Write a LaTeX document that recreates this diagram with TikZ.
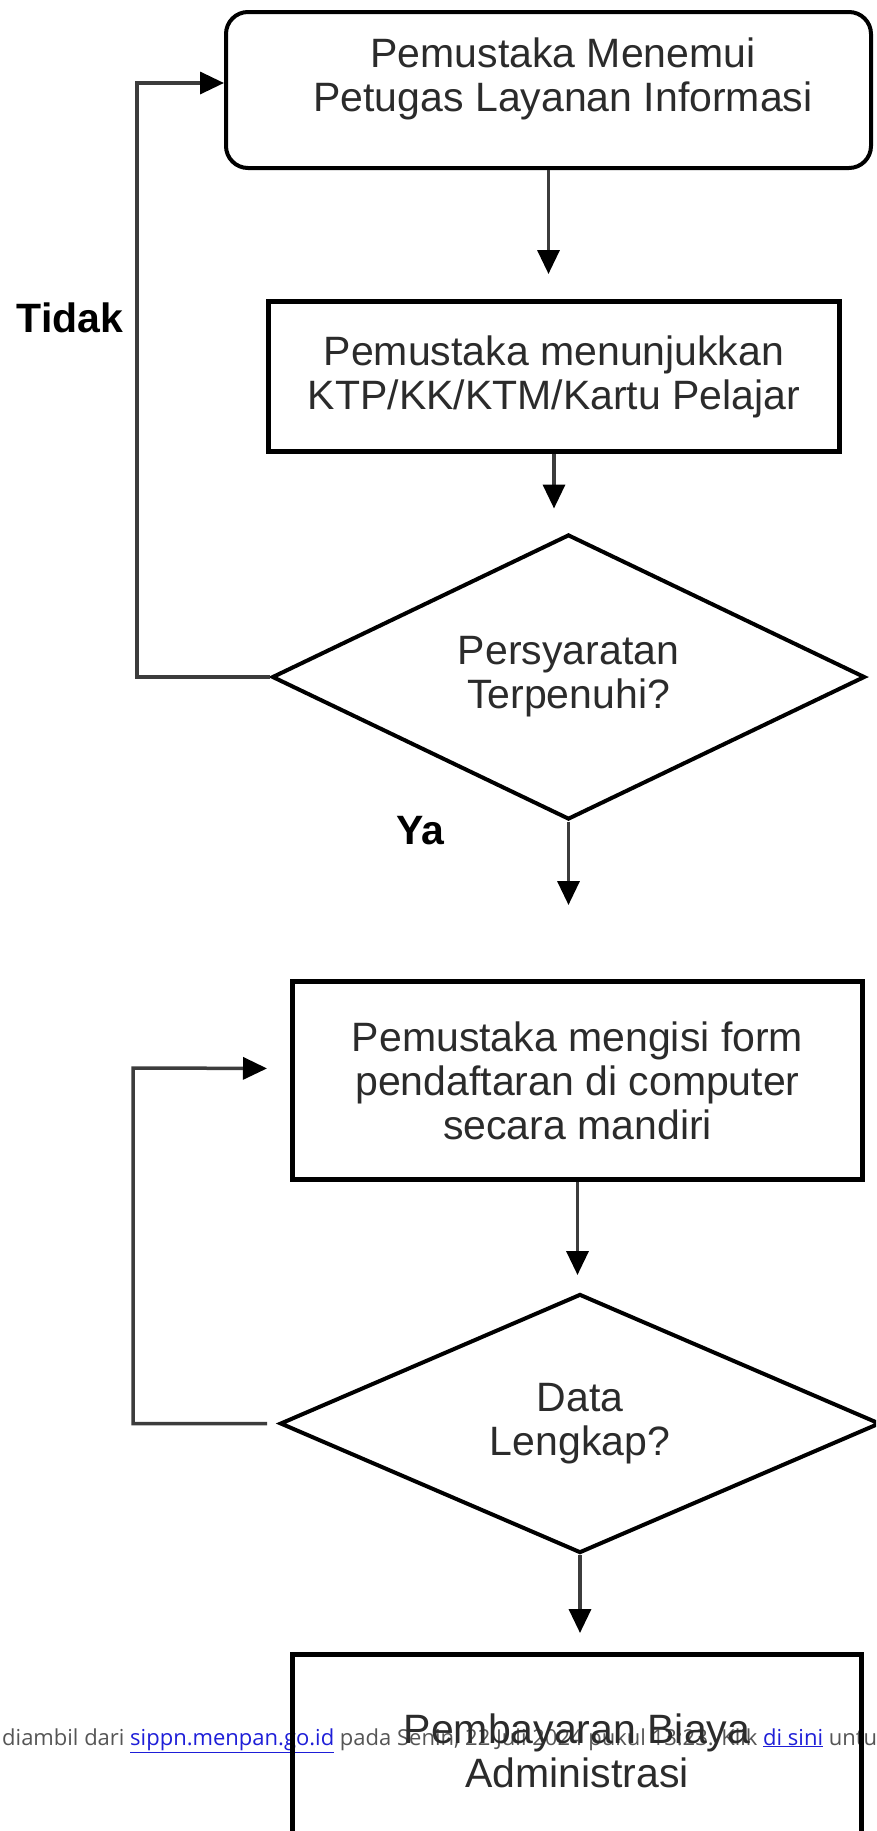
\documentclass[tikz,border=0pt]{standalone}
\usepackage{fontspec}
\setmainfont{Liberation Sans}
\newfontfamily\notefont{Open Sans}
\usetikzlibrary{shapes.geometric,arrows.meta}
\definecolor{inktext}{HTML}{2B2B2B}
\definecolor{linegray}{HTML}{3C3C3C}
\definecolor{notegray}{HTML}{555555}
\definecolor{linkblue}{HTML}{1E1ED8}

\begin{document}
\begin{tikzpicture}[x=1pt,y=-1pt,
    txt/.style={font=\fontsize{41}{44}\selectfont,text=inktext,align=center},
    procbox/.style={draw=black,line width=5pt,txt},
    decbox/.style={draw=black,line width=4pt,diamond,aspect=2.1,inner sep=0pt,txt},
    flow/.style={draw=linegray,line width=3.5pt,-{Triangle[length=24pt,width=22pt,color=black]}},
    lbl/.style={font=\fontsize{41}{44}\selectfont\bfseries,text=black}]
    \path[use as bounding box] (0,0) rectangle (876,1831);
    \clip (0,0) rectangle (876,1831);
    \fill[white] (0,0) rectangle (876,1831);

    \node[anchor=base west,inner sep=0pt,font=\notefont\fontsize{22}{26}\selectfont,text=notegray] (note) at (2,1745) {diambil dari \textcolor{linkblue}{\underline{sippn.menpan.go.id}} pada Senin, 22 Juli 2024 pukul 13:23. Klik \textcolor{linkblue}{\underline{di sini}} untuk};

    \node[draw=black,line width=4pt,rounded corners=22pt,minimum width=645pt,minimum height=156pt] (meet) at (548.5,90) {};
    \node[txt] (meettext) at (563,79) {Pemustaka Menemui\\Petugas Layanan Informasi};
    \node[procbox,minimum width=571pt,minimum height=150pt] (ktp) at (554,376.5) {Pemustaka menunjukkan\\KTP/KK/KTM/Kartu Pelajar};
    \node[decbox,minimum width=593pt,minimum height=285pt] (syarat) at (568.5,677) {Persyaratan\\Terpenuhi?};
    \node[procbox,minimum width=570pt,minimum height=198pt] (form) at (577.5,1080.5) {Pemustaka mengisi form\\pendaftaran di computer\\secara mandiri};
    \node[decbox,minimum width=600pt,minimum height=259pt] (lengkap) at (580,1423.5) {Data\\Lengkap?};
    \node[procbox,minimum width=569pt,minimum height=193pt] (bayar) at (577,1751) {Pembayaran Biaya\\Administrasi};

    \node[lbl] (tidak) at (70,318) {Tidak};
    \node[lbl] (ya) at (420,831) {Ya};

    \coordinate (back1) at (137,83);
    \coordinate (back2) at (133,1068);

    \draw[flow,shorten >=25pt] (meet.south) -- (meet.south |- ktp.north);
    \draw[flow,shorten >=24pt] (ktp.south) -- (ktp.south |- syarat.north);
    \draw[flow,shorten >=74pt] (syarat.south) -- (syarat.south |- form.north);
    \draw[flow,shorten >=17pt] (form.south) -- (form.south |- lengkap.north);
    \draw[flow,shorten >=19pt] (lengkap.south) -- (lengkap.south |- bayar.north);

    \draw[flow] (syarat.west) -| (back1) -- ([yshift=7pt]meet.west);
    \draw[flow,shorten <=11pt,shorten >=23pt] (lengkap.west) -| (back2) -- ([yshift=12pt]form.west);
\end{tikzpicture}
\end{document}
